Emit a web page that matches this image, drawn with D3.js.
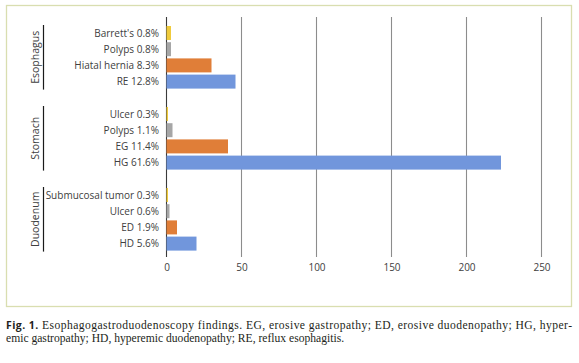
<!DOCTYPE html>
<html lang="en">
  <head>
    <meta charset="UTF-8" />
    <title>Fig. 1</title>
    <style>
      body {
        margin: 0;
        background: #fff;
      }
      .chart text {
        font-family: "Open Sans", "Noto Sans", sans-serif;
        fill: #404040;
      }
      .chart .caption {
        font-family: "Liberation Serif", serif;
        fill: #231f20;
      }
    </style>
  </head>
  <body>
    <div class="chart"></div>

    <script src="https://d3js.org/d3.v7.min.js"></script>

    <script>
      // data (counts; labels carry the %)
      const labels = [
        "Barrett's 0.8%",
        "Polyps 0.8%",
        "Hiatal hernia 8.3%",
        "RE 12.8%",
        "Ulcer 0.3%",
        "Polyps 1.1%",
        "EG 11.4%",
        "HG 61.6%",
        "Submucosal tumor 0.3%",
        "Ulcer 0.6%",
        "ED 1.9%",
        "HD 5.6%",
      ];
      const counts = [3, 3, 30, 46, 1, 4, 41, 223, 1, 2, 7, 20];
      const groups = ["Esophagus", "Stomach", "Duodenum"];
      const groupOf = [0, 0, 0, 0, 1, 1, 1, 1, 2, 2, 2, 2];
      const xTicks = [0, 50, 100, 150, 200, 250];
      const colors = ["#f0cb3c", "#a6a6a6", "#e07e38", "#7196dc"];

      const w = 579;
      const h = 363;

      const svg = d3
        .select(".chart")
        .append("svg")
        .attr("width", w)
        .attr("height", h);

      // frame round the chart
      svg
        .append("rect")
        .attr("x", 6.5)
        .attr("y", 5.5)
        .attr("width", 565)
        .attr("height", 301)
        .attr("fill", "none")
        .attr("stroke", "#d9deb0")
        .attr("stroke-width", 1.3);

      // rows, with an empty slot between groups
      const rowKeys = [];
      labels.forEach((l, i) => {
        if (i > 0 && groupOf[i] !== groupOf[i - 1]) rowKeys.push("gap" + i);
        rowKeys.push("r" + i);
      });

      const yScale = d3
        .scaleBand()
        .domain(rowKeys)
        .range([24.9, 251.7])
        .paddingInner(0.136)
        .paddingOuter(0.068);

      const xScale = d3.scaleLinear().domain([0, 250]).range([166.5, 541.5]);

      // vertical gridlines
      svg
        .append("g")
        .selectAll("line")
        .data(xTicks)
        .enter()
        .append("line")
        .attr("x1", (d) => xScale(d))
        .attr("x2", (d) => xScale(d))
        .attr("y1", 17)
        .attr("y2", 257)
        .attr("stroke", (d) => (d === 0 ? "#3a3a3a" : "#8c8c8c"))
        .attr("stroke-width", 1.1);

      // x axis labels only
      const xAxis = d3
        .axisBottom(xScale)
        .tickValues(xTicks)
        .tickSize(0)
        .tickPadding(0);

      const xg = svg
        .append("g")
        .attr("transform", "translate(0, 264)")
        .call(xAxis);
      xg.select(".domain").remove();
      xg.selectAll("text")
        .attr("font-size", "10px")
        .attr("font-family", null)
        .attr("fill", "#404040");

      // bars
      svg
        .append("g")
        .selectAll("rect")
        .data(counts)
        .enter()
        .append("rect")
        .attr("x", xScale(0))
        .attr("y", (d, i) => yScale("r" + i))
        .attr("width", (d) => xScale(d) - xScale(0))
        .attr("height", yScale.bandwidth())
        .attr("fill", (d, i) => colors[i % 4]);

      // category labels
      svg
        .append("g")
        .selectAll("text")
        .data(labels)
        .enter()
        .append("text")
        .attr("x", 159)
        .attr("y", (d, i) => yScale("r" + i) + yScale.bandwidth() / 2)
        .attr("dy", "0.35em")
        .attr("text-anchor", "end")
        .attr("font-size", "10px")
        .text((d) => d);

      // group brackets + rotated names
      groups.forEach((g, gi) => {
        const idx = groupOf.map((v, i) => (v === gi ? i : -1)).filter((i) => i >= 0);
        const y0 = yScale("r" + idx[0]) - 1;
        const y1 = yScale("r" + idx[idx.length - 1]) + yScale.bandwidth() + 1;

        svg
          .append("line")
          .attr("x1", 43.5)
          .attr("x2", 43.5)
          .attr("y1", y0)
          .attr("y2", y1)
          .attr("stroke", "#1a1a1a")
          .attr("stroke-width", 1.2);

        svg
          .append("text")
          .attr("transform", `translate(35, ${(y0 + y1) / 2}) rotate(-90)`)
          .attr("dy", "0.35em")
          .attr("text-anchor", "middle")
          .attr("font-size", "10.5px")
          .text(g);
      });

      // caption below the frame
      const capLines = [
        [
          "Fig. 1.",
          " Esophagogastroduodenoscopy findings. EG, erosive gastropathy; ED, erosive duodenopathy; HG, hyper-",
        ],
        ["", "emic gastropathy; HD, hyperemic duodenopathy; RE, reflux esophagitis."],
      ];

      capLines.forEach((parts, li) => {
        const t = svg
          .append("text")
          .attr("class", "caption")
          .attr("x", 6)
          .attr("y", 329 + li * 13)
          .attr("font-size", "11.6px");
        if (parts[0]) {
          t.append("tspan")
            .attr("font-family", "'Open Sans', 'Noto Sans', sans-serif")
            .attr("font-weight", 700)
            .attr("font-size", "10.5px")
            .attr("fill", "#231f20")
            .text(parts[0]);
        }
        t.append("tspan").text(parts[1]);

        // first line is justified across the frame width
        if (li === 0) {
          const len = t.node().getComputedTextLength();
          const target = 566;
          if (Math.abs(len - target) > 2) {
            t.attr("textLength", target).attr("lengthAdjust", "spacing");
          }
        }
      });
    </script>
  </body>
</html>
